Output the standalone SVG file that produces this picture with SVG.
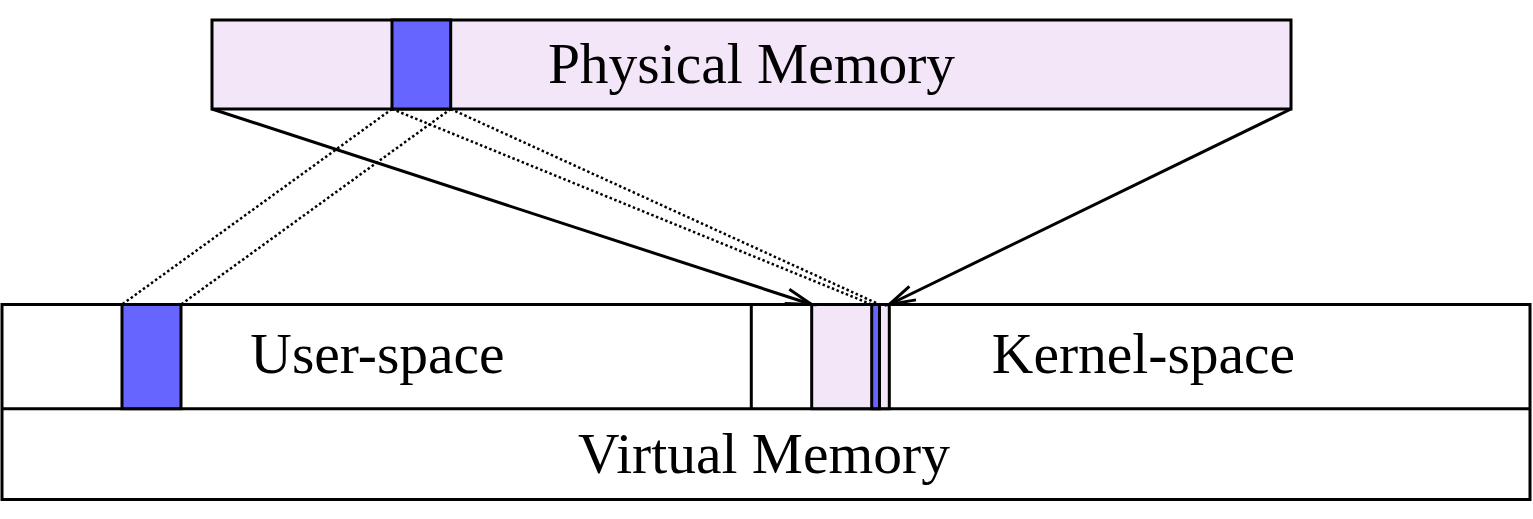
<svg xmlns="http://www.w3.org/2000/svg" width="1533" height="519" viewBox="0 0 1533 519">
  <style>
    .box { stroke: #000; stroke-width: 3; }
    .lilac { fill: #F2E6F8; }
    .blue { fill: #6666FF; }
    .white { fill: #FFFFFF; }
    .lbl { font-family: "Liberation Serif", "Times New Roman", serif; font-size: 57.5px; fill: #000; text-anchor: middle; }
    .solid { stroke: #000; stroke-width: 3; fill: none; }
    .dot { stroke: #000; stroke-width: 2.5; stroke-dasharray: 2.5 2.5; fill: none; }
  </style>
  <defs>
    <marker id="open" markerUnits="userSpaceOnUse" markerWidth="40" markerHeight="30" viewBox="-30 -15 40 30" refX="0" refY="0" orient="auto">
      <path d="M -26,-7.5 L 0,0 L -26,7.5" fill="none" stroke="#000" stroke-width="3"/>
    </marker>
  </defs>
  <rect width="1533" height="519" fill="#FFFFFF"/>

  <g id="physical-memory">
    <rect class="box lilac" x="212" y="20" width="1079" height="89"/>
    <rect class="box blue" x="392" y="20" width="58.7" height="89"/>
    <text class="lbl" x="751.5" y="83">Physical Memory</text>
  </g>

  <g id="virtual-memory">
    <rect class="box white" x="2" y="304.5" width="1528" height="195"/>
    <line class="box" x1="2" y1="408.7" x2="1530" y2="408.7"/>
    <text class="lbl" x="764" y="473">Virtual Memory</text>
  </g>

  <g id="user-space">
    <rect class="box blue" x="122" y="304.5" width="59" height="104.2"/>
    <text class="lbl" x="377.5" y="373">User-space</text>
  </g>

  <g id="kernel-space">
    <line class="box" x1="751.3" y1="304.5" x2="751.3" y2="408.7"/>
    <rect class="box lilac" x="811.7" y="304.5" width="77.6" height="104.2"/>
    <rect class="box blue" x="871.7" y="304.5" width="7.8" height="104.2"/>
    <text class="lbl" x="1143.5" y="373">Kernel-space</text>
  </g>

  <g id="connectors">
    <line class="solid" x1="212" y1="109" x2="811.7" y2="304.5" marker-end="url(#open)"/>
    <line class="solid" x1="1291" y1="109" x2="889.3" y2="304.5" marker-end="url(#open)"/>
    <line class="dot" x1="392" y1="109" x2="122" y2="304.5"/>
    <line class="dot" x1="450.7" y1="109" x2="181" y2="304.5"/>
    <line class="dot" x1="392" y1="109" x2="871.7" y2="304.5"/>
    <line class="dot" x1="450.7" y1="109" x2="879.5" y2="304.5"/>
  </g>
</svg>
